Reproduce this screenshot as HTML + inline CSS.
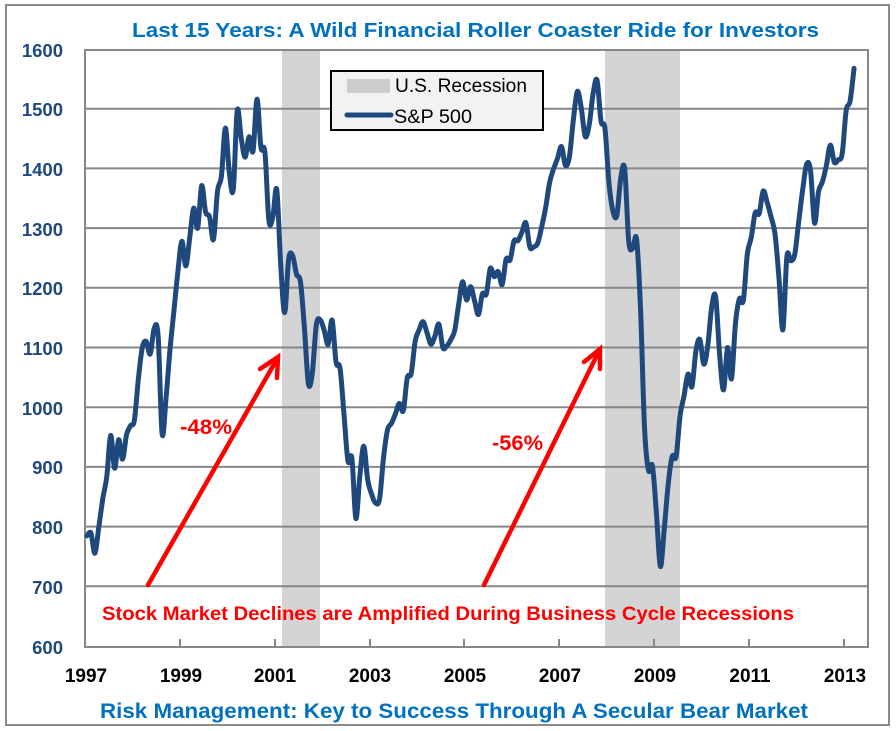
<!DOCTYPE html>
<html><head><meta charset="utf-8"><style>
html,body{margin:0;padding:0;background:#fff;}
svg{display:block;}
text{font-family:"Liberation Sans",Arial,sans-serif;}
</style></head><body>
<svg width="896" height="731" viewBox="0 0 896 731" xmlns="http://www.w3.org/2000/svg">
<rect x="0" y="0" width="896" height="731" fill="#fff"/>
<rect x="6" y="5" width="883" height="720" fill="#fff" stroke="#8a8a8a" stroke-width="2"/>
<text x="132" y="37" font-size="20.5" font-weight="bold" fill="#0070C0" textLength="687" lengthAdjust="spacingAndGlyphs">Last 15 Years:  A Wild Financial Roller Coaster Ride for Investors</text>
<!-- recession bands -->
<rect x="282" y="50" width="38" height="597" fill="#d4d4d4"/>
<rect x="605" y="50" width="75" height="597" fill="#d4d4d4"/>
<!-- gridlines -->
<g stroke="#878787" stroke-width="2">
<line x1="85" y1="108.7" x2="868" y2="108.7"/>
<line x1="85" y1="168.4" x2="868" y2="168.4"/>
<line x1="85" y1="228.1" x2="868" y2="228.1"/>
<line x1="85" y1="287.8" x2="868" y2="287.8"/>
<line x1="85" y1="347.5" x2="868" y2="347.5"/>
<line x1="85" y1="407.2" x2="868" y2="407.2"/>
<line x1="85" y1="466.9" x2="868" y2="466.9"/>
<line x1="85" y1="526.6" x2="868" y2="526.6"/>
<line x1="85" y1="586.3" x2="868" y2="586.3"/>
</g>
<rect x="85" y="50" width="783" height="597" fill="none" stroke="#878787" stroke-width="2"/>
<g stroke="#878787" stroke-width="2">
<line x1="180" y1="639" x2="180" y2="647"/>
<line x1="275" y1="639" x2="275" y2="647"/>
<line x1="370" y1="639" x2="370" y2="647"/>
<line x1="464" y1="639" x2="464" y2="647"/>
<line x1="559" y1="639" x2="559" y2="647"/>
<line x1="654" y1="639" x2="654" y2="647"/>
<line x1="749" y1="639" x2="749" y2="647"/>
<line x1="844" y1="639" x2="844" y2="647"/>
</g>
<!-- y labels -->
<g font-size="18.5" font-weight="bold" fill="#1F497D" text-anchor="end">
<text x="63" y="57">1600</text>
<text x="63" y="116">1500</text>
<text x="63" y="176">1400</text>
<text x="63" y="236">1300</text>
<text x="63" y="295">1200</text>
<text x="63" y="355">1100</text>
<text x="63" y="415">1000</text>
<text x="63" y="474">900</text>
<text x="63" y="534">800</text>
<text x="63" y="594">700</text>
<text x="63" y="654">600</text>
</g>
<!-- x labels -->
<g font-size="19" font-weight="bold" fill="#000" text-anchor="middle">
<text x="86" y="682">1997</text>
<text x="181" y="682">1999</text>
<text x="275" y="682">2001</text>
<text x="370" y="682">2003</text>
<text x="465" y="682">2005</text>
<text x="560" y="682">2007</text>
<text x="655" y="682">2009</text>
<text x="750" y="682">2011</text>
<text x="845" y="682">2013</text>
</g>
<!-- series -->
<g id="seriesg">
<polyline id="series" fill="none" stroke="#1F497D" stroke-width="5" stroke-linejoin="round" stroke-linecap="round" vector-effect="non-scaling-stroke" transform="matrix(3.954 0 0 -0.597 86.977 1005.2)" points="
0,786.16 1,790.82 2,757.12 3,801.34 4,848.28 5,885.14 6,954.29 7,899.47 8,947.28 9,914.62 10,955.40 11,970.43
12,980.28 13,1049.34 14,1101.75 15,1111.75 16,1090.82 17,1133.84 18,1120.67 19,957.28 20,1017.01 21,1098.67 22,1163.63 23,1229.23
24,1279.64 25,1238.33 26,1286.37 27,1335.18 28,1301.84 29,1372.71 30,1328.72 31,1320.41 32,1282.71 33,1362.93 34,1388.91 35,1469.25
36,1394.46 37,1366.42 38,1498.58 39,1452.43 40,1420.60 41,1454.60 42,1430.83 43,1517.68 44,1436.51 45,1429.40 46,1314.95 47,1320.28
48,1366.01 49,1239.94 50,1160.33 51,1249.46 52,1255.82 53,1224.38 54,1211.23 55,1133.58 56,1040.94 57,1059.78 58,1139.45 59,1148.08
60,1130.20 61,1106.73 62,1147.39 63,1076.92 64,1067.14 65,989.82 66,911.62 67,916.07 68,815.28 69,885.76 70,936.31 71,879.82
72,855.70 73,841.15 74,848.18 75,916.92 76,963.59 77,974.50 78,990.31 79,1008.01 80,995.97 81,1050.71 82,1058.20 83,1111.92
84,1131.13 85,1144.94 86,1126.21 87,1107.30 88,1120.68 89,1140.84 90,1101.72 91,1104.24 92,1114.58 93,1130.20 94,1173.82 95,1211.92
96,1181.27 97,1203.60 98,1180.59 99,1156.85 100,1191.50 101,1191.33 102,1234.18 103,1220.33 104,1228.81 105,1207.01 106,1249.48 107,1248.29
108,1280.08 109,1280.66 110,1294.83 111,1310.61 112,1270.09 113,1270.20 114,1276.66 115,1303.82 116,1335.85 117,1377.94 118,1400.63 119,1418.30
120,1438.24 121,1406.82 122,1420.86 123,1482.37 124,1530.62 125,1503.35 126,1455.27 127,1473.99 128,1526.75 129,1549.38 130,1481.14 131,1468.36
132,1378.55 133,1330.63 134,1322.70 135,1385.59 136,1400.38 137,1280.00 138,1267.38 139,1282.83 140,1166.36 141,968.75 142,896.24 143,903.25
144,825.88 145,735.09 146,797.87 147,872.81 148,919.14 149,919.32 150,987.48 151,1020.62 152,1057.08 153,1036.19 154,1095.63 155,1115.10
156,1073.87 157,1104.49 158,1169.43 159,1186.69 160,1089.41 161,1030.71 162,1101.60 163,1049.33 164,1141.20 165,1183.26 166,1180.55 167,1257.64
168,1286.12 169,1327.22 170,1325.83 171,1363.61 172,1345.20 173,1320.64 174,1292.28 175,1218.89 176,1131.42 177,1253.30 178,1246.96 179,1257.60
180,1312.41 181,1365.68 182,1408.47 183,1397.91 184,1310.33 185,1362.16 186,1379.32 187,1406.58 188,1440.67 189,1412.16 190,1416.18 191,1426.19
192,1498.11 193,1514.68 194,1569.19"/>
</g>
<!-- arrows -->
<g stroke="#ff0000" stroke-width="4.5" fill="none" stroke-linecap="round" stroke-linejoin="miter">
<line x1="148" y1="585" x2="277" y2="359"/>
<polyline points="260,369 278,357 277,378"/>
<line x1="484" y1="585" x2="599" y2="351"/>
<polyline points="584,362 600,349 600,369"/>
</g>
<text x="180" y="434" font-size="21" font-weight="bold" fill="#ff0000" textLength="52" lengthAdjust="spacingAndGlyphs">-48%</text>
<text x="492" y="450" font-size="21" font-weight="bold" fill="#ff0000" textLength="51" lengthAdjust="spacingAndGlyphs">-56%</text>
<text x="102" y="620" font-size="19" font-weight="bold" fill="#ff0000" textLength="692" lengthAdjust="spacingAndGlyphs">Stock Market Declines are Amplified During Business Cycle Recessions</text>
<!-- legend -->
<rect x="331" y="71" width="212" height="59" fill="#f2f2f2" stroke="#000" stroke-width="2"/>
<rect x="347" y="79" width="43" height="14" fill="#cdcdcd"/>
<line x1="347" y1="115" x2="391" y2="115" stroke="#1F497D" stroke-width="5" stroke-linecap="round"/>
<text x="395" y="92" font-size="19" fill="#000" textLength="132" lengthAdjust="spacingAndGlyphs">U.S. Recession</text>
<text x="394" y="123" font-size="19" fill="#000" textLength="78" lengthAdjust="spacingAndGlyphs">S&amp;P 500</text>
<!-- bottom title -->
<text x="100" y="718" font-size="21.5" font-weight="bold" fill="#0070C0" textLength="708" lengthAdjust="spacingAndGlyphs">Risk Management: Key to Success Through A Secular Bear Market</text>
</svg>
<script>
(function(){
  try{
    var pl=document.getElementById('series');
    var raw=pl.getAttribute('points').trim().split(/\s+/);
    var P=raw.map(function(s){var a=s.split(',');return [+a[0],+a[1]];});
    var n=P.length;
    // map to screen coords
    var S=P.map(function(p){return [86.977+3.954*p[0],1005.2-0.597*p[1]];});
    var d='M'+S[0][0].toFixed(2)+' '+S[0][1].toFixed(2);
    for(var i=0;i<n-1;i++){
      var p0=S[i>0?i-1:i],p1=S[i],p2=S[i+1],p3=S[i+2<n?i+2:i+1];
      var c1x=p1[0]+(p2[0]-p0[0])/6,c1y=p1[1]+(p2[1]-p0[1])/6;
      var c2x=p2[0]-(p3[0]-p1[0])/6,c2y=p2[1]-(p3[1]-p1[1])/6;
      d+=' C'+c1x.toFixed(2)+' '+c1y.toFixed(2)+' '+c2x.toFixed(2)+' '+c2y.toFixed(2)+' '+p2[0].toFixed(2)+' '+p2[1].toFixed(2);
    }
    var path=document.createElementNS('http://www.w3.org/2000/svg','path');
    path.setAttribute('d',d);
    path.setAttribute('fill','none');
    path.setAttribute('stroke','#1F497D');
    path.setAttribute('stroke-width','5');
    path.setAttribute('stroke-linejoin','round');
    path.setAttribute('stroke-linecap','round');
    pl.parentNode.replaceChild(path,pl);
  }catch(e){}
})();
</script>
</body></html>
